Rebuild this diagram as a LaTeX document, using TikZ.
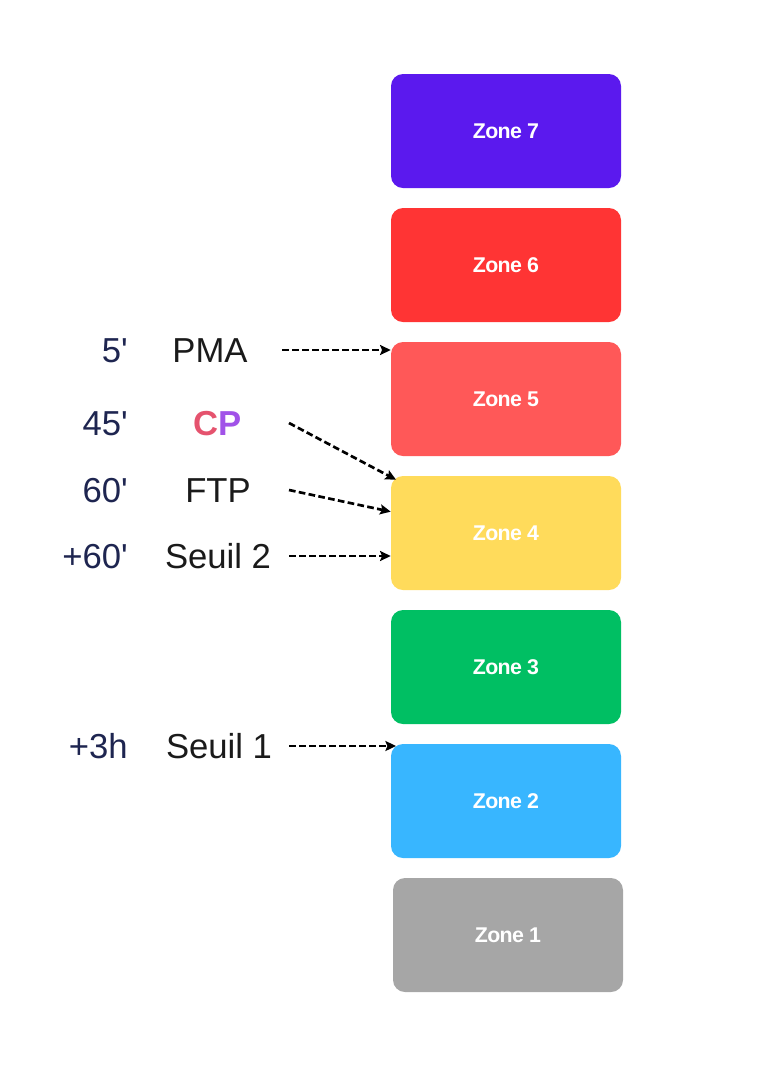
\documentclass[tikz,border=0pt]{standalone}
\usepackage{fontspec}
\setmainfont{Liberation Sans}
\usetikzlibrary{arrows.meta,positioning,calc}
\definecolor{zseven}{HTML}{5B19EE}
\definecolor{zsix}{HTML}{FF3434}
\definecolor{zfive}{HTML}{FF5858}
\definecolor{zfour}{HTML}{FFDB5B}
\definecolor{zthree}{HTML}{00BF63}
\definecolor{ztwo}{HTML}{38B6FF}
\definecolor{zone}{HTML}{A6A6A6}
\definecolor{navy}{HTML}{1E2550}
\definecolor{ink}{HTML}{1A1A1A}
\definecolor{cpred}{HTML}{E5536E}
\definecolor{cppurple}{HTML}{A152E8}

\begin{document}
\begin{tikzpicture}[
    x=0.75pt, y=-0.75pt,
    >={Stealth[length=8pt,width=7.5pt,inset=1.5pt]},
    zonebox/.style={
        rounded corners=9pt,
        minimum width=172.5pt,
        minimum height=85.5pt,
        inner sep=0pt,
        text=white,
        font=\fontsize{16}{19}\selectfont\bfseries\addfontfeatures{LetterSpace=-3}
    },
    num/.style={
        anchor=east,
        inner sep=0pt,
        text height=18.6pt,
        text depth=0pt,
        text=navy,
        font=\fontsize{26}{30}\selectfont
    },
    lab/.style={
        inner sep=0pt,
        text height=18.6pt,
        text depth=0pt,
        text=ink,
        font=\fontsize{26}{30}\selectfont
    },
    arr/.style={->, dash pattern=on 5pt off 2.5pt, line width=2pt}
]
\useasboundingbox (0,0) rectangle (768,1083);

% zones
\node[zonebox, fill=zseven] (z7) at (506,131) {Zone 7};
\node[zonebox, fill=zsix]   (z6) at (506,265) {Zone 6};
\node[zonebox, fill=zfive]  (z5) at (506,399) {Zone 5};
\node[zonebox, fill=zfour]  (z4) at (506,533) {Zone 4};
\node[zonebox, fill=zthree] (z3) at (506,667) {Zone 3};
\node[zonebox, fill=ztwo]   (z2) at (506,801) {Zone 2};
\node[zonebox, fill=zone]   (z1) at (508,935) {Zone 1};

% durations
\node[num] (d5)   at (128,350) {5\textquotesingle};
\node[num] (d45)  at (128,423) {45\textquotesingle};
\node[num] (d60)  at (128,490) {60\textquotesingle};
\node[num] (d60p) at (128,556) {+60\textquotesingle};
\node[num] (d3h)  at (128,746) {+3h};

% thresholds
\node[lab] (pma) at (210,350) {PMA};
\node[lab] (cp)  at (218,423) {\bfseries\textcolor{cpred}{C}\textcolor{cppurple}{P}};
\node[lab] (ftp) at (218,490) {FTP};
\node[lab] (s2)  at (218,556) {Seuil 2};
\node[lab] (s1)  at (219,746) {Seuil 1};

\coordinate (tail) at (289,0);

\draw[arr] ([xshift=-5pt]pma -| tail) -- (pma -| z5.west);
\draw[arr] (cp -| tail) -- ([xshift=4pt,yshift=-3pt]z4.north west);
\draw[arr] (ftp -| tail) -- ([yshift=16pt]z4.west);
\draw[arr] (s2 -| tail) -- (s2 -| z4.west);
\draw[arr] (s1 -| tail) -- ([xshift=4pt]s1 -| z2.west);

\end{tikzpicture}
\end{document}
